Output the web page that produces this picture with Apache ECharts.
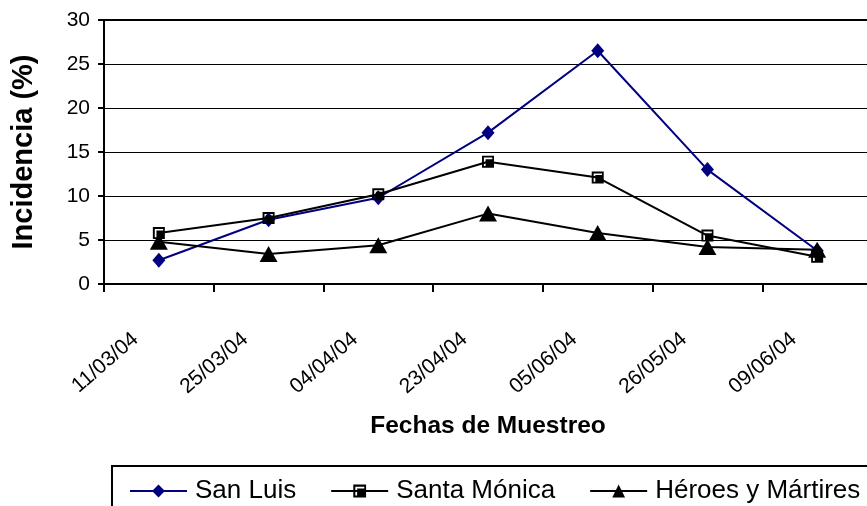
<!DOCTYPE html>
<html>
<head>
<meta charset="utf-8">
<script src="https://cdn.jsdelivr.net/npm/echarts@6/dist/echarts.min.js"></script>
<style>
  html, body { margin: 0; padding: 0; background: #fff; }
  #chart { width: 867px; height: 506px; }
</style>
</head>
<body>
<div id="chart"></div>
<script>
// Sampling dates (category axis)
const fechas = ['11/03/04', '25/03/04', '04/04/04', '23/04/04', '05/06/04', '26/05/04', '09/06/04'];

// Incidence (%) per site
const sanLuis = [2.7, 7.3, 9.8, 17.2, 26.5, 13.0, 3.8];
const santaMonica = [5.8, 7.5, 10.2, 13.9, 12.1, 5.5, 3.1];
const heroesMartires = [4.8, 3.4, 4.4, 8.0, 5.8, 4.2, 3.9];

// Y axis ticks
const yTicks = [0, 5, 10, 15, 20, 25, 30];

// Square marker: black frame, white gap, black core shifted toward the lower right
const squareMarker = 'path://M0,0 L10,0 L10,10 L0,10 Z M1.6,1.6 L1.6,8.6 L8.6,8.6 L8.6,1.6 Z M3,3 L8.6,3 L8.6,8.6 L3,8.6 Z';

const FONT = 'Liberation Sans, Arial, sans-serif';

const chart = echarts.init(document.getElementById('chart'), null, { renderer: 'canvas' });

chart.setOption({
  animation: false,
  backgroundColor: '#ffffff',
  textStyle: { fontFamily: FONT, color: '#000' },
  grid: {
    left: 104, top: 20, width: 768, height: 264,
    outerBoundsMode: 'none', containLabel: false,
    show: true, borderColor: '#000', borderWidth: 2, backgroundColor: 'transparent'
  },
  xAxis: {
    type: 'category',
    data: fechas,
    boundaryGap: true,
    name: 'Fechas de Muestreo',
    nameLocation: 'middle',
    nameGap: 130,
    nameTextStyle: { fontFamily: FONT, fontWeight: 'bold', fontSize: 24.5, color: '#000' },
    axisLine: { lineStyle: { color: '#000', width: 2 } },
    axisTick: { show: true, length: 8, lineStyle: { color: '#000', width: 2 } },
    axisLabel: {
      rotate: 41, fontSize: 21, color: '#000', fontFamily: FONT,
      margin: 32, padding: [0, 31, 0, 0], interval: 0
    },
    splitLine: { show: false }
  },
  yAxis: {
    type: 'value',
    min: yTicks[0], max: yTicks[yTicks.length - 1], interval: 5,
    name: 'Incidencia (%)',
    nameLocation: 'middle',
    nameGap: 66,
    nameRotate: 90,
    nameTextStyle: { fontFamily: FONT, fontWeight: 'bold', fontSize: 29, color: '#000' },
    axisLine: { show: true, lineStyle: { color: '#000', width: 2 } },
    axisTick: { show: true, length: 6, lineStyle: { color: '#000', width: 2 } },
    axisLabel: { fontSize: 21, color: '#000', fontFamily: FONT, margin: 14 },
    splitLine: { show: true, lineStyle: { color: '#000', width: 1.2 } }
  },
  legend: {
    left: 112, top: 466, width: 900,
    orient: 'horizontal',
    padding: [12, 19, 12, 17],
    borderColor: '#000', borderWidth: 2,
    itemWidth: 57, itemHeight: 16, itemGap: 34,
    textStyle: { fontSize: 26, color: '#000', fontFamily: FONT, padding: [0, 0, 0, 3] },
    data: ['San Luis', 'Santa Mónica', 'Héroes y Mártires']
  },
  series: [
    {
      name: 'San Luis', type: 'line', data: sanLuis,
      symbol: 'diamond', symbolSize: [13, 15],
      lineStyle: { color: '#000080', width: 2 },
      itemStyle: { color: '#000080' },
      z: 2
    },
    {
      name: 'Santa Mónica', type: 'line', data: santaMonica,
      symbol: squareMarker, symbolSize: 12, symbolKeepAspect: true,
      lineStyle: { color: '#000', width: 2 },
      itemStyle: { color: '#000' },
      z: 3
    },
    {
      name: 'Héroes y Mártires', type: 'line', data: heroesMartires,
      symbol: 'triangle', symbolSize: [18, 16],
      lineStyle: { color: '#000', width: 2 },
      itemStyle: { color: '#000' },
      z: 4
    }
  ]
});
</script>
</body>
</html>
